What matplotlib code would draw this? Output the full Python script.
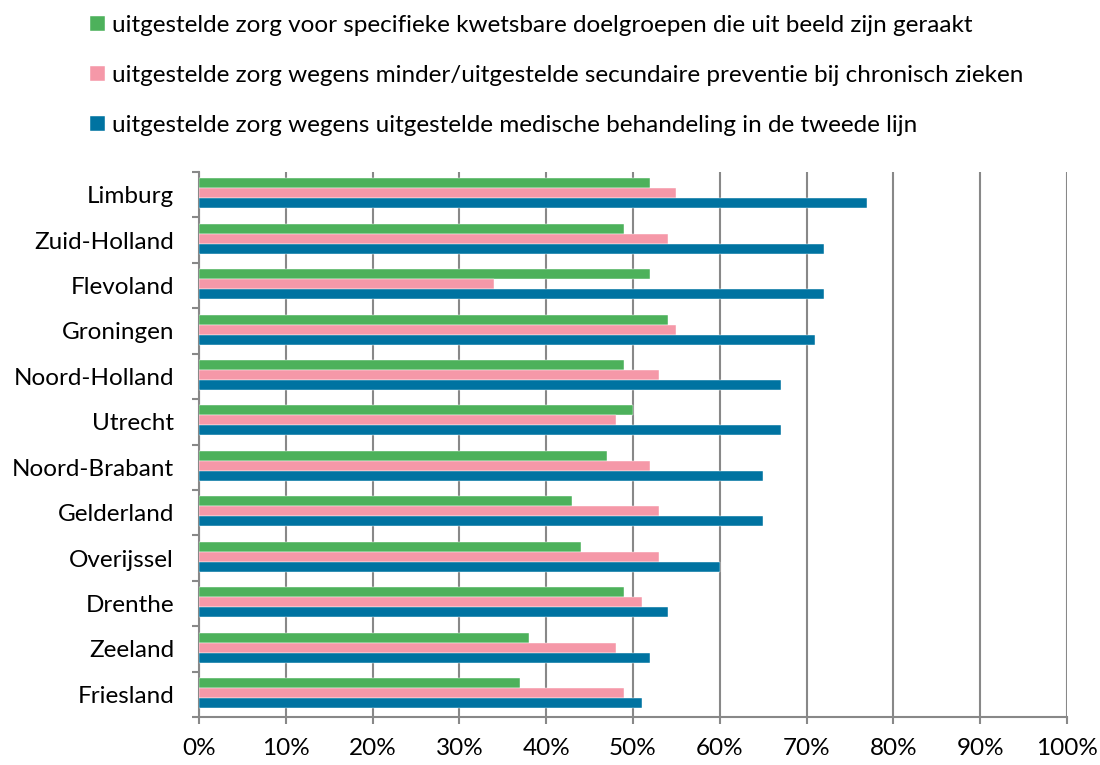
import matplotlib
matplotlib.use('Agg')
import matplotlib.pyplot as plt
import numpy as np

plt.rcParams['font.family'] = ['Lato', 'DejaVu Sans']

# provinces, top to bottom as in the chart
provinces = ['Limburg', 'Zuid-Holland', 'Flevoland', 'Groningen', 'Noord-Holland',
             'Utrecht', 'Noord-Brabant', 'Gelderland', 'Overijssel', 'Drenthe',
             'Zeeland', 'Friesland']

# percentages per series
doelgroepen = [52, 49, 52, 54, 49, 50, 47, 43, 44, 49, 38, 37]
preventie = [55, 54, 34, 55, 53, 48, 52, 53, 53, 51, 48, 49]
behandeling = [77, 72, 72, 71, 67, 67, 65, 65, 60, 54, 52, 51]

labels = ['uitgestelde zorg voor specifieke kwetsbare doelgroepen die uit beeld zijn geraakt',
          'uitgestelde zorg wegens minder/uitgestelde secundaire preventie bij chronisch zieken',
          'uitgestelde zorg wegens uitgestelde medische behandeling in de tweede lijn']
colors = ['#4db15b', '#f598a8', '#0073a1']

fig = plt.figure(figsize=(11, 7.65), dpi=100)
ax = fig.add_axes([199 / 1100, 1 - 717 / 765, (1067 - 199) / 1100, (717 - 172) / 765])

n = len(provinces)
y = np.arange(n)[::-1]  # Limburg on top
h = 0.22
series = [doelgroepen, preventie, behandeling]
for i, (vals, c, lab) in enumerate(zip(series, colors, labels)):
    ax.barh(y + h * (1 - i) + 0.03, vals, height=h, color=c, label=lab,
            edgecolor='white', linewidth=0.3, zorder=3)

ax.set_xlim(0, 100)
ax.set_ylim(-0.5, n - 0.5)
ax.set_xticks(np.arange(0, 101, 10))
ax.set_xticklabels(['%d%%' % v for v in range(0, 101, 10)])
ax.set_yticks(y)
ax.set_yticklabels(provinces)
ax.set_yticks(np.arange(-0.5, n, 1), minor=True)

ax.grid(axis='x', color='#888888', lw=1.5, zorder=0)
for s in ['top', 'right']:
    ax.spines[s].set_visible(False)
for s in ['left', 'bottom']:
    ax.spines[s].set_color('#888888')
    ax.spines[s].set_linewidth(1.5)

ax.tick_params(axis='y', which='major', length=0, pad=18, labelsize=17.5)
ax.tick_params(axis='y', which='minor', length=5, width=1.5, color='#888888')
ax.tick_params(axis='x', length=5, width=1.5, color='#888888', pad=10, labelsize=17.5)

leg = fig.legend(loc='upper left', bbox_to_anchor=(0.062, 1.009), frameon=False,
                 fontsize=17.5, handlelength=0.6, handleheight=0.6, handletextpad=0.3,
                 labelspacing=1.2)

fig.savefig('out.png', dpi=100)
